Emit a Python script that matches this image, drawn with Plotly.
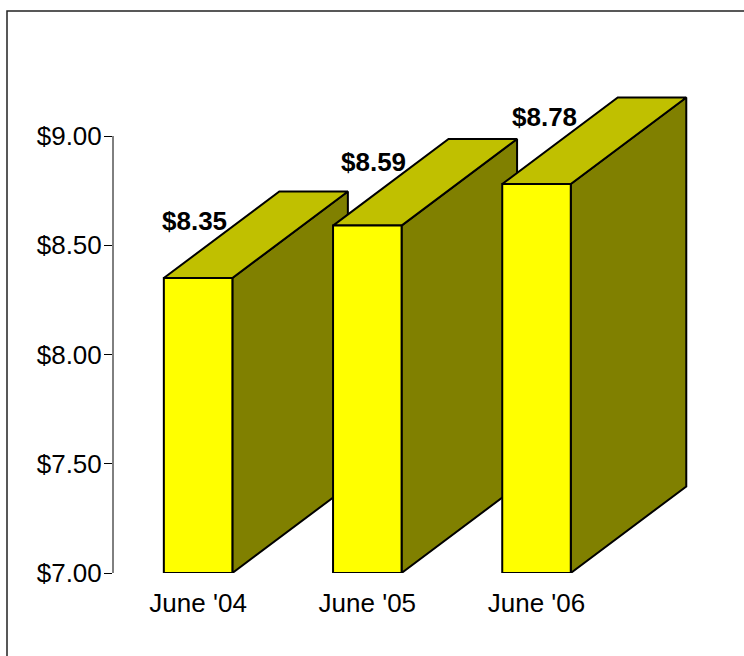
import plotly.graph_objects as go

# ---- data ----
categories = ["June '04", "June '05", "June '06"]
values = [8.35, 8.59, 8.78]
value_labels = ["$8.35", "$8.59", "$8.78"]
y_tick_values = [7.0, 7.5, 8.0, 8.5, 9.0]
y_tick_labels = ["$7.00", "$7.50", "$8.00", "$8.50", "$9.00"]

# ---- style / geometry ----
BASE = 7.0
HALF_W = 0.2025          # half width of bar front (x units)
DX = 0.6826              # depth offset in x units
DY = 0.396               # depth offset in y units
FRONT = "#FFFF00"
TOP = "#C0C000"
SIDE = "#808000"
EDGE = dict(color="black", width=2)
label_shift = [(-4, 57), (6, 64), (8, 67)]
FONT = "Liberation Sans, Arial, sans-serif"

fig = go.Figure()

def poly(xs, ys, color):
    fig.add_trace(go.Scatter(
        x=xs + [xs[0]], y=ys + [ys[0]], mode="lines", fill="toself",
        fillcolor=color, line=EDGE, hoverinfo="skip", showlegend=False))

for i, v in enumerate(values):
    l, r = i - HALF_W, i + HALF_W
    # side face
    poly([r, r + DX, r + DX, r], [BASE, BASE + DY, v + DY, v], SIDE)
    # top face
    poly([l, r, r + DX, l + DX], [v, v, v + DY, v + DY], TOP)
    # front face
    poly([l, r, r, l], [BASE, BASE, v, v], FRONT)

for i, (v, t) in enumerate(zip(values, value_labels)):
    xs, ys = label_shift[i]
    fig.add_annotation(x=i, y=v, text=f"<b>{t}</b>", showarrow=False,
                       xshift=xs, yshift=ys,
                       font=dict(family=FONT, size=26, color="black"))

W, H = 744, 656
ML, MR, MT, MB = 113, 47, 81, 83
PX_PER_CAT = 169.2
PX_PER_DOLLAR = 218.5
pw, ph = W - ML - MR, H - MT - MB
x0 = -0.503
fig.update_layout(
    width=W, height=H,
    margin=dict(l=ML, r=MR, t=MT, b=MB),
    paper_bgcolor="white", plot_bgcolor="white",
    showlegend=False,
    xaxis=dict(range=[x0, x0 + pw / PX_PER_CAT], tickvals=list(range(len(categories))),
               ticktext=categories, showgrid=False, zeroline=False, showline=False,
               ticks="", ticklabelstandoff=12,
               tickfont=dict(family=FONT, size=26, color="black")),
    yaxis=dict(range=[BASE, BASE + ph / PX_PER_DOLLAR], tickvals=y_tick_values,
               ticktext=y_tick_labels, showgrid=False, zeroline=False, showline=False,
               ticks="outside", ticklen=8, tickwidth=1, tickcolor="black",
               ticklabelstandoff=-3,
               tickfont=dict(family=FONT, size=26, color="black")),
    shapes=[
        dict(type="line", xref="paper", yref="y", x0=0, x1=0, y0=7, y1=9,
             line=dict(color="black", width=1)),
        dict(type="rect", xref="paper", yref="paper",
             x0=(7 - ML) / pw, x1=2, y0=-1, y1=(H - MB - 11) / ph,
             line=dict(color="#222222", width=1.5), layer="below"),
    ],
)

fig.write_html("out.html", config={"displayModeBar": False},
               post_script="document.body.style.margin='0px';")
